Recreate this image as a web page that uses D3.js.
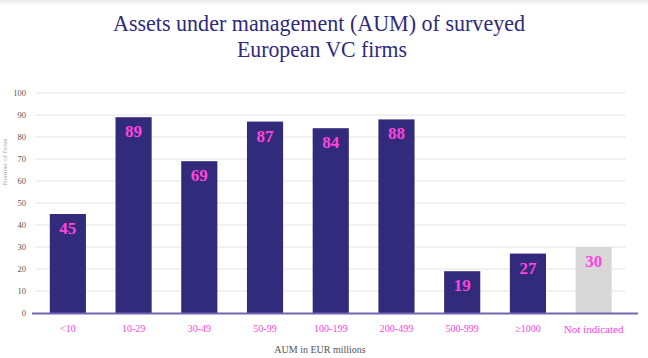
<!DOCTYPE html>
<html><head><meta charset="utf-8">
<script src="https://cdn.jsdelivr.net/npm/d3@7"></script>
<style>html,body{margin:0;padding:0;background:#fff;}svg{display:block;}</style>
</head><body>
<script>
const categories = ["<10","10-29","30-49","50-99","100-199","200-499","500-999","≥1000","Not indicated"];
const values = [45,89,69,87,84,88,19,27,30];
const highlight = [true,true,true,true,true,true,true,true,false];
const yTicks = [0,10,20,30,40,50,60,70,80,90,100];
const titleLines = ["Assets under management (AUM) of surveyed","European VC firms"];

const W=648,H=358;
const svg=d3.select("body").append("svg").attr("width",W).attr("height",H);
const defs=svg.append("defs");
const g0=defs.append("linearGradient").attr("id","topshade").attr("x1",0).attr("x2",0).attr("y1",0).attr("y2",1);
g0.append("stop").attr("offset",0).attr("stop-color","#e8e8e8");
g0.append("stop").attr("offset",1).attr("stop-color","#ffffff");
svg.append("rect").attr("x",0).attr("y",0).attr("width",W).attr("height",5).attr("fill","url(#topshade)");

const x=d3.scaleBand().domain(categories).range([35,626.5]).paddingInner(0.45).paddingOuter(0.225);
const y=d3.scaleLinear().domain([0,100]).range([313,93]);

const serif='"Liberation Serif","DejaVu Serif",serif';

// title
svg.selectAll("text.title").data(titleLines).enter().append("text")
  .attr("class","title").attr("x",(d,i)=>i===0?319:322).attr("y",(d,i)=>31+i*26)
  .attr("text-anchor","middle").attr("font-family",serif).attr("font-size",23)
  .attr("fill","#2f2a7c")
  .attr("textLength",(d,i)=>i===0?412:170).attr("lengthAdjust","spacingAndGlyphs")
  .text(d=>d);

// grid
svg.append("g").selectAll("line").data(yTicks.filter(d=>d>0)).enter().append("line")
  .attr("x1",35).attr("x2",626).attr("y1",d=>y(d)).attr("y2",d=>y(d))
  .attr("stroke","#e4e4e4").attr("stroke-width",1);

// y axis labels
const ya=svg.append("g").attr("transform","translate(26,0)")
  .call(d3.axisLeft(y).tickValues(yTicks).tickSize(0).tickPadding(0));
ya.select(".domain").remove();
ya.selectAll("text").attr("font-family",serif).attr("font-size",8.5).attr("fill","#555");

// y axis title
svg.append("text").attr("transform","translate(7,162) rotate(-90)")
  .attr("text-anchor","middle").attr("font-family",serif).attr("font-size",7).attr("fill","#aaa")
  .text("Number of firms");

// bars
svg.append("g").selectAll("rect").data(values).enter().append("rect")
  .attr("x",(d,i)=>x(categories[i])).attr("width",x.bandwidth())
  .attr("y",d=>y(d)).attr("height",d=>y(0)-y(d))
  .attr("fill",(d,i)=>highlight[i]?"#322a7b":"#d8d8d8");

// value labels
svg.append("g").selectAll("text").data(values).enter().append("text")
  .attr("x",(d,i)=>x(categories[i])+x.bandwidth()/2).attr("y",d=>y(d)+20)
  .attr("text-anchor","middle").attr("font-family",serif).attr("font-size",17)
  .attr("font-weight","bold").attr("fill","#ff44dd").text(d=>d);

// baseline
svg.append("line").attr("x1",32).attr("x2",638).attr("y1",y(0)+0.5).attr("y2",y(0)+0.5)
  .attr("stroke","#6f66b3").attr("stroke-width",2);

// x axis labels
const xa=svg.append("g").attr("transform","translate(0,325)")
  .call(d3.axisBottom(x).tickSize(0).tickPadding(0));
xa.select(".domain").remove();
xa.selectAll("text").attr("font-family",serif)
  .attr("font-size",d=>d==="Not indicated"?11:10).attr("fill","#ff44dd");

// x axis title
svg.append("text").attr("x",320).attr("y",353).attr("text-anchor","middle")
  .attr("font-family",serif).attr("font-size",10).attr("fill","#555").text("AUM in EUR millions");
</script>
</body></html>
